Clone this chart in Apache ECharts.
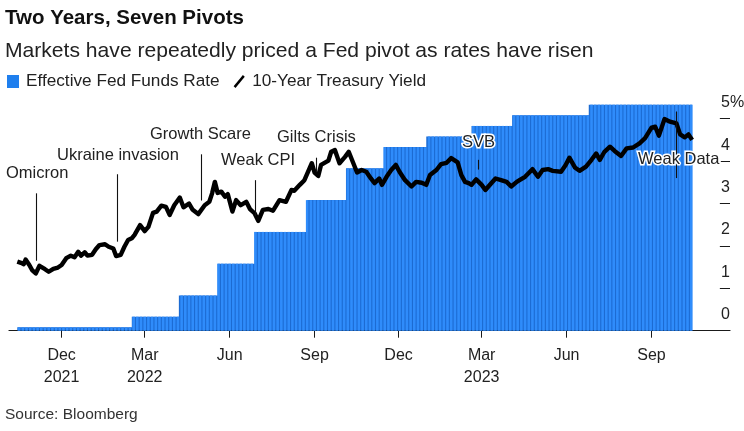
<!DOCTYPE html>
<html>
<head>
<meta charset="utf-8">
<style>
  html, body { margin: 0; padding: 0; background: #fff; }
  #chart { width: 744px; height: 431px; }
</style>
<script src="https://cdn.jsdelivr.net/npm/echarts@6/dist/echarts.min.js"></script>
</head>
<body>
<div id="chart"></div>
<script>
// all days are counted from 1 Dec 2021
const tickDates = ['2021-12-01', '2022-03-01', '2022-06-01', '2022-09-01', '2022-12-01', '2023-03-01', '2023-06-01', '2023-09-01'];
const tickLabels = ['Dec\n2021', 'Mar\n2022', 'Jun', 'Sep', 'Dec', 'Mar\n2023', 'Jun', 'Sep'];
const yTicks = [0, 1, 2, 3, 4, 5];

// Fed funds rate: the day each level starts, and the level
const rateDays = [-48, 76, 127, 169, 209, 266, 308, 349, 395, 444, 488, 571];
const rateLevels = [0.08, 0.33, 0.83, 1.58, 2.33, 3.08, 3.83, 4.33, 4.58, 4.83, 5.08, 5.33];
const rateEndDay = 683;

// 10-year yield
const yieldDays = [-48, -44, -41, -39, -35, -32, -28, -24, -18, -14, -9, -4, 0, 5, 10, 14, 18, 21, 25, 28,
  33, 37, 41, 47, 51, 56, 59, 64, 68, 72, 76, 79, 85, 90, 94, 99, 103, 108, 113, 117,
  122, 128, 132, 138, 142, 148, 150, 155, 160, 163, 166, 169, 173, 177, 180, 185, 189, 194, 200, 204,
  209, 213, 218, 224, 229, 236, 243, 249, 252, 258, 263, 267, 271, 274, 278, 281, 289, 292, 296, 301,
  307, 311, 316, 320, 325, 330, 335, 339, 344, 347, 352, 357, 362, 366, 372, 379, 384, 390, 395, 399,
  406, 411, 417, 422, 429, 433, 437, 441, 444, 449, 455, 459, 463, 470, 476, 482, 487, 493, 496, 502,
  510, 516, 521, 527, 532, 541, 546, 550, 556, 561, 568, 574, 579, 583, 588, 594, 599, 606, 612, 619,
  626, 632, 639, 643, 647, 653, 659, 666, 670, 675, 679, 683];
const yieldValues = [1.63, 1.60, 1.57, 1.68, 1.55, 1.43, 1.35, 1.53, 1.45, 1.39, 1.46, 1.49, 1.55, 1.71, 1.77, 1.73, 1.86, 1.77, 1.85, 1.77,
  1.79, 1.92, 2.02, 2.04, 1.98, 1.94, 1.76, 1.79, 1.98, 2.14, 2.18, 2.26, 2.49, 2.35, 2.45, 2.78, 2.81, 2.95, 2.92, 2.73,
  2.96, 3.14, 2.91, 3.00, 2.85, 2.75, 2.77, 2.96, 3.04, 3.24, 3.51, 3.25, 3.28, 3.16, 3.22, 2.81, 3.08, 2.96, 3.04, 2.87,
  2.77, 2.59, 2.85, 2.87, 2.83, 3.08, 3.04, 3.32, 3.30, 3.44, 3.55, 3.75, 3.95, 3.73, 3.65, 3.91, 4.01, 4.22, 4.26, 3.95,
  4.10, 4.22, 3.95, 3.73, 3.79, 3.75, 3.59, 3.48, 3.59, 3.44, 3.63, 3.79, 3.91, 3.75, 3.55, 3.40, 3.51, 3.49, 3.44, 3.67,
  3.79, 3.93, 3.96, 4.07, 3.97, 3.67, 3.51, 3.48, 3.44, 3.57, 3.44, 3.32, 3.42, 3.59, 3.55, 3.51, 3.40, 3.51, 3.55, 3.63,
  3.81, 3.63, 3.79, 3.81, 3.77, 3.75, 3.91, 4.08, 3.85, 3.77, 3.87, 4.03, 4.18, 4.03, 4.22, 4.34, 4.24, 4.12, 4.30, 4.32,
  4.42, 4.54, 4.79, 4.81, 4.60, 4.99, 4.93, 4.89, 4.63, 4.56, 4.63, 4.50];

// annotations
const noteNames = ['Omicron', 'Ukraine invasion', 'Growth Scare', 'Weak CPI', 'Gilts Crisis', 'SVB', 'Weak Data'];
const noteDays = [-27, 60, 151, 210, 276, 451, 666];
const noteTops = [3.24, 3.69, 4.16, 3.55, 4.08, 4.03, 5.17];
const noteBottoms = [1.65, 2.10, 3.07, 2.70, 3.74, 3.80, 3.60];
const noteLabelX = [6, 57, 150, 221, 277, 462, 638];
const noteLabelY = [173, 155, 134, 160, 137, 142, 159];

const FONT = '"Liberation Sans", Arial, sans-serif';
const INK = '#1a1a1a';
const DAY0 = Date.UTC(2021, 11, 1);
const tickDays = tickDates.map(d => (new Date(d + 'T00:00:00Z').getTime() - DAY0) / 86400000);

// level in force on a given day
function rateOn(day) {
  let level = rateLevels[0];
  rateDays.forEach((d, i) => { if (day >= d) level = rateLevels[i]; });
  return level;
}

// narrow bars give the stripes, the step area behind them is the darker gap colour
const barData = [];
for (let d = rateDays[0] + 2; d < rateEndDay; d += 4) {
  barData.push([d, rateOn(d)]);
}
const stepData = rateDays.map((d, i) => [d, rateLevels[i]]);
stepData.push([rateEndDay, rateLevels[rateLevels.length - 1]]);

const chart = echarts.init(document.getElementById('chart'), null, { renderer: 'canvas' });

chart.setOption({
  animation: false,
  backgroundColor: '#fff',
  textStyle: { fontFamily: FONT },
  title: {
    text: 'Two Years, Seven Pivots',
    subtext: 'Markets have repeatedly priced a Fed pivot as rates have risen',
    left: 5,
    top: 8,
    padding: 0,
    itemGap: 12,
    textStyle: { fontFamily: FONT, fontSize: 20.5, fontWeight: 'bold', color: '#111' },
    subtextStyle: { fontFamily: FONT, fontSize: 21.1, color: '#222' }
  },
  legend: {
    left: 7,
    top: 73,
    padding: 0,
    itemWidth: 12,
    itemHeight: 13,
    itemGap: 14,
    textStyle: { fontFamily: FONT, fontSize: 17.2, color: '#222', padding: [0, 0, 0, 2] },
    data: [
      { name: 'Effective Fed Funds Rate', icon: 'rect', itemStyle: { color: '#1f7fee' } },
      { name: '10-Year Treasury Yield', icon: 'path://M0,12 L10,0 L12,2 L2,14 Z', itemStyle: { color: '#000' } }
    ]
  },
  // the 5% label hangs past the canvas edge on purpose, so the grid must not shrink for it
  grid: { left: 9, right: 14, top: 97.5, bottom: 100.3, outerBoundsMode: 'none' },
  xAxis: {
    type: 'value',
    min: -57,
    max: 724,
    axisLine: { show: true, onZero: false, lineStyle: { color: INK, width: 1.2 } },
    axisTick: { show: true, length: 7, lineStyle: { color: INK, width: 1 }, customValues: tickDays },
    splitLine: { show: false },
    axisLabel: {
      customValues: tickDays,
      margin: 14,
      fontSize: 16,
      lineHeight: 22,
      color: '#222',
      hideOverlap: false,
      formatter: v => tickLabels[tickDays.indexOf(v)]
    }
  },
  yAxis: {
    type: 'value',
    position: 'right',
    min: 0,
    max: 5.5,
    interval: 1,
    splitLine: { show: false },
    axisLine: { show: false },
    axisTick: { show: false },
    axisLabel: {
      inside: true,
      customValues: yTicks,
      margin: 9,
      align: 'left',
      verticalAlign: 'bottom',
      padding: [0, 0, 8, 0],
      fontSize: 16,
      color: '#222',
      formatter: v => (v === 5 ? '5%' : String(v))
    }
  },
  series: [
    {
      name: 'rate backing',
      type: 'line',
      step: 'end',
      data: stepData,
      symbol: 'none',
      silent: true,
      lineStyle: { width: 0 },
      itemStyle: { color: '#1c6bd2' },
      areaStyle: { color: '#1c6bd2', opacity: 1 },
      z: 1
    },
    {
      name: 'Effective Fed Funds Rate',
      type: 'bar',
      data: barData,
      barWidth: 2.6,
      itemStyle: { color: '#2f8cfb' },
      z: 2
    },
    {
      name: '10-Year Treasury Yield',
      type: 'line',
      data: yieldDays.map((d, i) => [d, yieldValues[i]]),
      symbol: 'none',
      lineStyle: { color: '#000', width: 4.4, join: 'round' },
      itemStyle: { color: '#000' },
      z: 4
    },
    {
      // leader lines sit over the label halos, as in the original
      name: 'notes',
      type: 'line',
      data: [],
      z: 30,
      markLine: {
        silent: true,
        symbol: 'none',
        animation: false,
        label: { show: false },
        lineStyle: { color: '#111', width: 1.1, type: 'solid' },
        data: noteNames.map((n, i) => [
          { coord: [noteDays[i], noteTops[i]] },
          { coord: [noteDays[i], noteBottoms[i]] }
        ])
      }
    },
    {
      // right hand tick marks, under each value label
      name: 'y ticks',
      type: 'line',
      data: [],
      z: 5,
      markLine: {
        silent: true,
        symbol: 'none',
        animation: false,
        label: { show: false },
        lineStyle: { color: INK, width: 1, type: 'solid' },
        data: yTicks.map(v => [{ coord: [713, v] }, { coord: [724, v] }])
      }
    }
  ],
  graphic: noteNames.map((n, i) => ({
    type: 'text',
    x: noteLabelX[i],
    y: noteLabelY[i],
    z: 20,
    style: {
      text: n,
      fontFamily: FONT,
      fontSize: 16.5,
      fill: '#222',
      verticalAlign: 'middle',
      stroke: (n === 'SVB' || n === 'Weak Data') ? '#fff' : null,
      lineWidth: (n === 'SVB' || n === 'Weak Data') ? 3 : 0
    }
  })).concat([{
    type: 'text',
    x: 5,
    y: 415,
    style: { text: 'Source: Bloomberg', fontFamily: FONT, fontSize: 15.5, fill: '#333', verticalAlign: 'middle' }
  }])
});
</script>
</body>
</html>
